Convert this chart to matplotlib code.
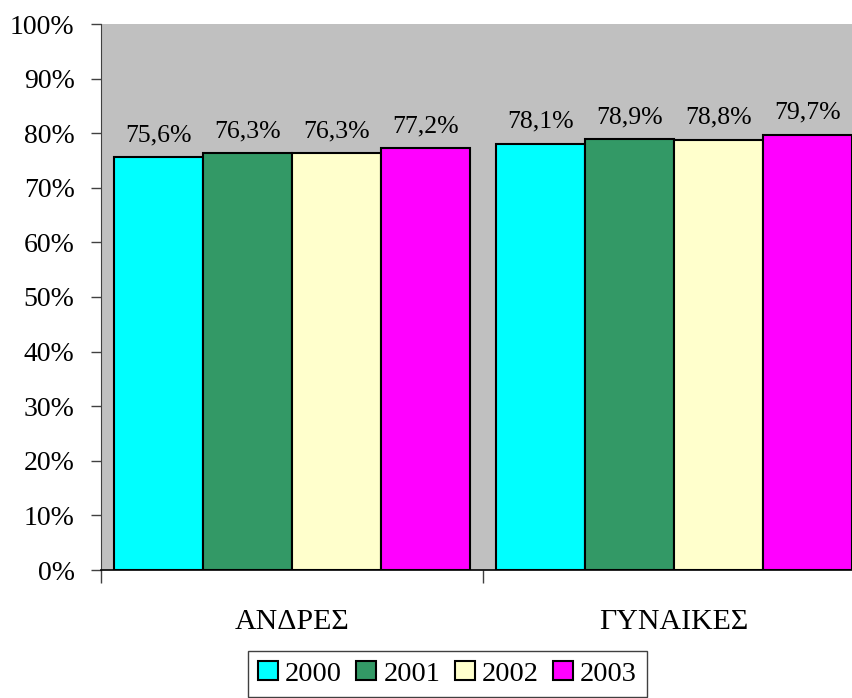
import numpy as np
import matplotlib.pyplot as plt
from matplotlib.ticker import FixedLocator, NullFormatter, PercentFormatter

plt.rcParams['font.family'] = ['Liberation Serif', 'DejaVu Serif']

categories = ['ΑΝΔΡΕΣ', 'ΓΥΝΑΙΚΕΣ']
years = ['2000', '2001', '2002', '2003']
values = {
    '2000': [75.6, 78.1],
    '2001': [76.3, 78.9],
    '2002': [76.3, 78.8],
    '2003': [77.2, 79.7],
}
colors = ['#00FFFF', '#339966', '#FFFFCC', '#FF00FF']

fig = plt.figure(figsize=(8.52, 6.98), dpi=100)
ax = fig.add_axes([101 / 852, 1 - 570 / 698, 764 / 852, 546 / 698])
ax.set_facecolor('#C0C0C0')

x = np.arange(len(categories))
width = 0.233
offsets = (np.arange(len(years)) - 1.5) * width

for i, yr in enumerate(years):
    bars = ax.bar(x + offsets[i], values[yr], width, color=colors[i],
                  edgecolor='black', linewidth=1.5, label=yr, zorder=2)
    for b, v in zip(bars, values[yr]):
        ax.annotate(f'{v:.1f}%'.replace('.', ','),
                    (b.get_x() + b.get_width() / 2, v),
                    xytext=(0, 8), textcoords='offset points',
                    ha='center', va='bottom', fontsize=18.5)

ax.set_xlim(-0.5, 1.5)
ax.set_ylim(0, 100)
ax.yaxis.set_major_locator(FixedLocator(np.arange(0, 101, 10)))
ax.yaxis.set_major_formatter(PercentFormatter(decimals=0))
ax.tick_params(axis='y', labelsize=20, length=7, width=1, color='#404040', pad=12)

ax.set_xticks(x)
ax.set_xticklabels(categories, fontsize=21.5)
ax.tick_params(axis='x', which='major', length=0, pad=28)
ax.xaxis.set_minor_locator(FixedLocator([-0.5, 0.5, 1.5]))
ax.xaxis.set_minor_formatter(NullFormatter())
ax.tick_params(axis='x', which='minor', length=9, width=1, color='#404040')

for s in ['top', 'right']:
    ax.spines[s].set_visible(False)
ax.spines['left'].set_color('#404040')
ax.spines['bottom'].set_color('black')
ax.spines['bottom'].set_linewidth(1.2)

fig.legend(loc='upper center', bbox_to_anchor=(447.5 / 852, 1 - 651 / 698),
           ncol=4, fontsize=20.5, frameon=True, fancybox=False,
           edgecolor='#404040', framealpha=1, handlelength=0.7, handleheight=0.67,
           handletextpad=0.25, columnspacing=0.5, borderpad=0.35,
           borderaxespad=0)

plt.savefig('out.png', dpi=100)
